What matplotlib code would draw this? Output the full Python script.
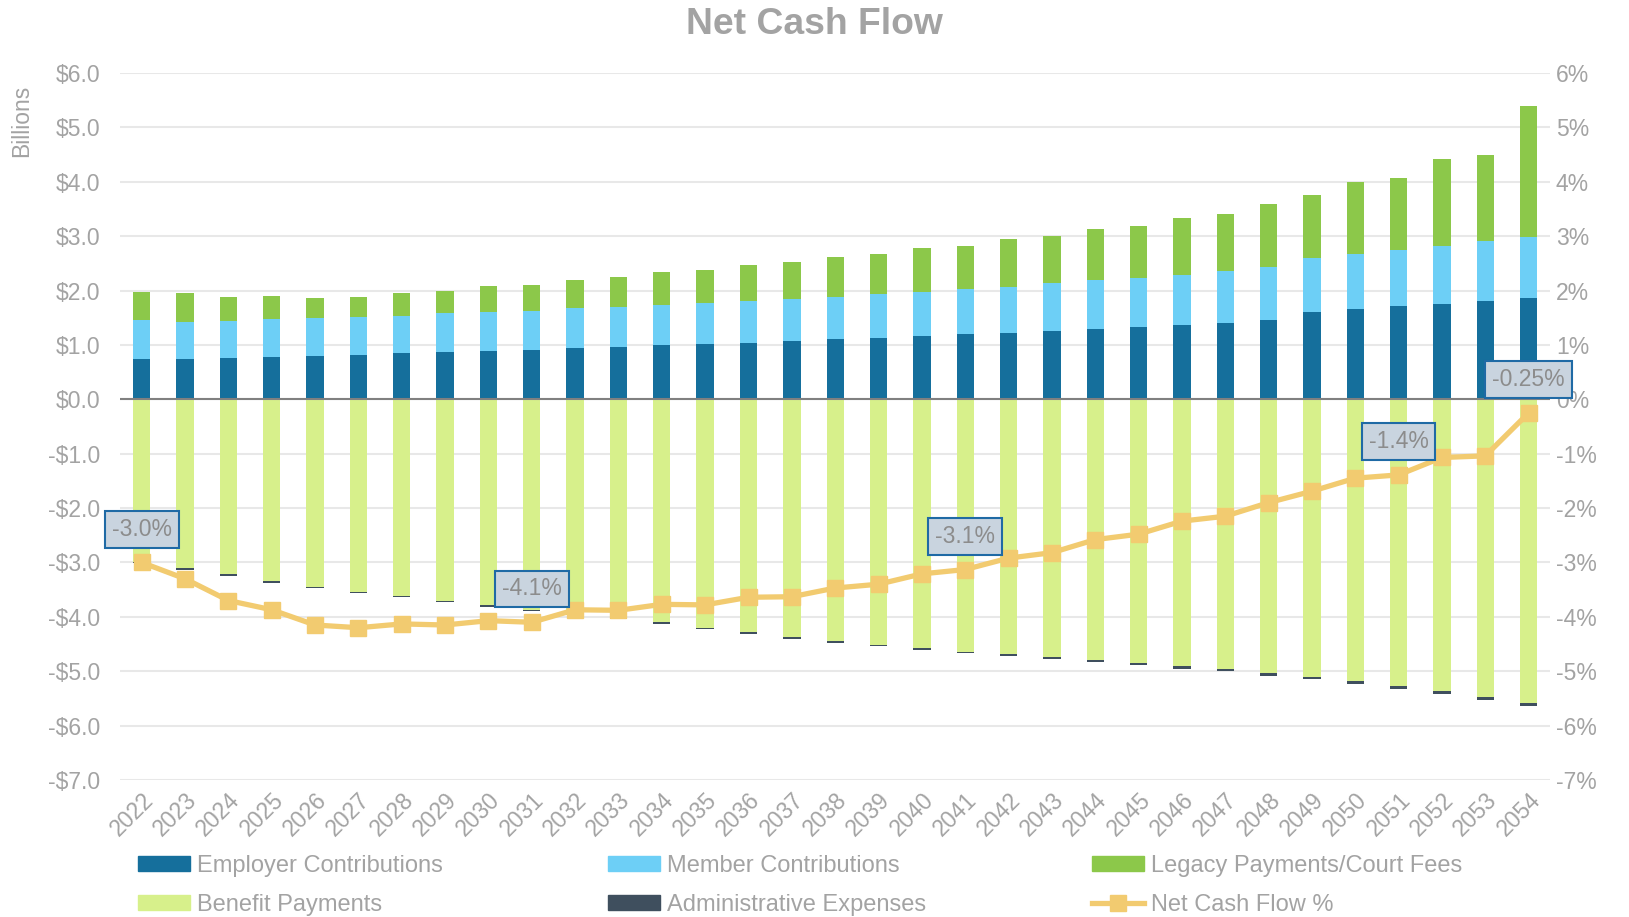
import numpy as np
import matplotlib
matplotlib.use('agg')
import matplotlib.pyplot as plt
from matplotlib.patches import Patch
from matplotlib.lines import Line2D

plt.rcParams['font.family'] = ['Liberation Sans', 'DejaVu Sans']

years = [str(y) for y in range(2022, 2055)]

# billions
employer = [0.74, 0.74, 0.76, 0.78, 0.80, 0.82, 0.85, 0.87, 0.89, 0.91, 0.94,
            0.96, 0.99, 1.01, 1.04, 1.07, 1.10, 1.13, 1.16, 1.20, 1.22, 1.26,
            1.30, 1.33, 1.37, 1.41, 1.46, 1.61, 1.66, 1.71, 1.76, 1.81, 1.86]
member = [0.71, 0.69, 0.68, 0.69, 0.69, 0.69, 0.69, 0.71, 0.71, 0.72, 0.73,
          0.74, 0.74, 0.76, 0.77, 0.78, 0.78, 0.80, 0.82, 0.82, 0.85, 0.88,
          0.89, 0.90, 0.92, 0.95, 0.97, 0.99, 1.01, 1.04, 1.06, 1.10, 1.12]
legacy = [0.52, 0.52, 0.44, 0.43, 0.37, 0.37, 0.42, 0.41, 0.48, 0.47, 0.53,
          0.54, 0.61, 0.60, 0.66, 0.67, 0.74, 0.74, 0.80, 0.80, 0.87, 0.87,
          0.95, 0.96, 1.05, 1.04, 1.16, 1.16, 1.33, 1.32, 1.59, 1.58, 2.41]
benefit = [-2.99, -3.11, -3.22, -3.35, -3.45, -3.54, -3.62, -3.71, -3.79, -3.87, -3.93,
           -4.01, -4.10, -4.20, -4.28, -4.37, -4.45, -4.51, -4.58, -4.64, -4.68, -4.74,
           -4.79, -4.84, -4.91, -4.96, -5.04, -5.11, -5.18, -5.27, -5.37, -5.48, -5.59]
admin = [-0.02, -0.02, -0.02, -0.02, -0.02, -0.02, -0.02, -0.02, -0.03, -0.03, -0.03,
         -0.03, -0.03, -0.03, -0.03, -0.03, -0.03, -0.03, -0.03, -0.03, -0.04, -0.04,
         -0.04, -0.04, -0.04, -0.04, -0.04, -0.04, -0.05, -0.05, -0.05, -0.05, -0.05]
# percent
ncf_pct = [-3.00, -3.30, -3.70, -3.87, -4.15, -4.20, -4.13, -4.15, -4.07, -4.10, -3.87,
           -3.88, -3.77, -3.78, -3.64, -3.63, -3.47, -3.40, -3.21, -3.13, -2.92, -2.82,
           -2.58, -2.48, -2.24, -2.15, -1.90, -1.69, -1.45, -1.39, -1.07, -1.04, -0.25]

label_years = ['2022', '2031', '2041', '2051', '2054']
label_texts = ['-3.0%', '-4.1%', '-3.1%', '-1.4%', '-0.25%']

c_emp = '#156F9C'
c_mem = '#6DCFF6'
c_leg = '#8CC84A'
c_ben = '#D7F08B'
c_adm = '#3F4F5E'
c_line = '#F2CB70'
grey = '#A3A3A3'

fig = plt.figure(figsize=(16.29, 9.17), dpi=100)
ax = fig.add_axes([0.0737, 0.1494, 0.878, 0.771])

x = np.arange(len(years))
emp = np.array(employer)
mem = np.array(member)
ben = np.array(benefit)
w = 0.4
ax.bar(x, emp, w, color=c_emp, zorder=2)
ax.bar(x, mem, w, bottom=emp, color=c_mem, zorder=2)
ax.bar(x, legacy, w, bottom=emp + mem, color=c_leg, zorder=2)
ax.bar(x, ben, w, color=c_ben, zorder=2)
ax.bar(x, admin, w, bottom=ben, color=c_adm, zorder=2)
ax.axhline(0, color='#808080', lw=1.5, zorder=3)

ax.set_xlim(-0.5, len(years) - 0.5)
ax.set_ylim(-7, 6)
ticks = np.arange(-7, 7)
ax.set_yticks(ticks)
ax.set_yticklabels([('-$%.1f' % -t) if t < 0 else ('$%.1f' % t) for t in ticks])
ax.grid(axis='y', color='#E8E8E8', lw=1.5, zorder=0)
ax.set_axisbelow(True)
ax.set_xticks(x)
ax.set_xticklabels(years, rotation=45, ha='right', rotation_mode='anchor')
for s in ax.spines.values():
    s.set_visible(False)
ax.tick_params(axis='both', length=0, colors=grey, labelsize=16.5)
ax.tick_params(axis='y', pad=14)
ax.tick_params(axis='x', pad=6)

ax2 = ax.twinx()
ax2.set_ylim(-7, 6)
ax2.set_yticks(ticks)
ax2.set_yticklabels(['%d%%' % t for t in ticks])
for s in ax2.spines.values():
    s.set_visible(False)
ax2.tick_params(axis='y', length=0, colors=grey, labelsize=16.5, pad=4)
ax2.plot(x, ncf_pct, color=c_line, lw=3.8, marker='s', markersize=11, zorder=4)

for yr, txt in zip(label_years, label_texts):
    i = years.index(yr)
    ax2.annotate(txt, (x[i], ncf_pct[i]), xytext=(0, 24), textcoords='offset points',
                 ha='center', va='center', fontsize=16.5, color='#8C8C8C', zorder=5,
                 bbox=dict(boxstyle='square,pad=0.3', fc='#C9D4DF', ec='#1F6AA5', lw=1.5))

fig.text(0.5, 0.973, 'Net Cash Flow', ha='center', va='center', fontsize=26.8,
         fontweight='bold', color=grey)
fig.text(0.013, 1 - 121 / 917, 'Billions', rotation=90, ha='center', va='center',
         fontsize=16.5, color=grey)

handles = [Patch(color=c_emp), Patch(color=c_ben), Patch(color=c_mem),
           Patch(color=c_adm), Patch(color=c_leg),
           Line2D([], [], color=c_line, lw=3.8, marker='s', markersize=11)]
labels = ['Employer Contributions', 'Benefit Payments', 'Member Contributions',
          'Administrative Expenses', 'Legacy Payments/Court Fees', 'Net Cash Flow %']
leg = fig.legend(handles, labels, ncol=3, mode='expand', loc='upper left',
                 bbox_to_anchor=(138 / 1629, 0.0, (1462 - 138) / 1629, 0.068),
                 frameon=False, fontsize=17, handlelength=2.2, handleheight=0.6,
                 handletextpad=0.3, labelspacing=0.72, borderaxespad=0, borderpad=0)
for t in leg.get_texts():
    t.set_color(grey)

fig.savefig('out.png', dpi=100)
